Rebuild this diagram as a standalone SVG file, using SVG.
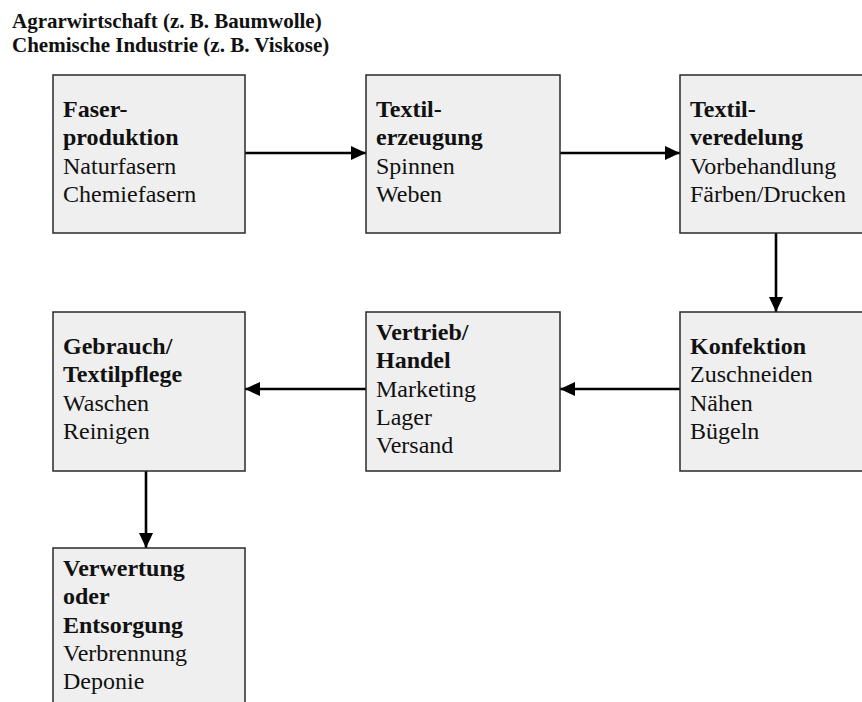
<svg xmlns="http://www.w3.org/2000/svg" width="862" height="702" viewBox="0 0 862 702">
  <defs>
    <style>
      .box { fill: #efefef; stroke: #2a2a2a; stroke-width: 1.5; }
      .t { font-family: "Liberation Serif", "Times New Roman", serif; font-size: 24px; fill: #111; }
      .b { font-weight: bold; }
      .hd { font-family: "Liberation Serif", "Times New Roman", serif; font-size: 21px; font-weight: bold; fill: #111; }
      .edge { stroke: #000; stroke-width: 2.6; fill: none; }
    </style>
    <marker id="head" viewBox="0 0 15 14" refX="15" refY="7" markerWidth="15" markerHeight="14" markerUnits="userSpaceOnUse" orient="auto">
      <path d="M0,0 L15,7 L0,14 Z" fill="#000"/>
    </marker>
  </defs>

  <rect width="862" height="702" fill="#fff"/>

  <!-- source sectors -->
  <g id="header">
    <text class="hd" x="12" y="28">Agrarwirtschaft (z. B. Baumwolle)</text>
    <text class="hd" x="12" y="52">Chemische Industrie (z. B. Viskose)</text>
  </g>

  <!-- connectors -->
  <g id="connectors">
    <line class="edge" x1="245" y1="153" x2="366" y2="153" marker-end="url(#head)"/>
    <line class="edge" x1="560" y1="153" x2="680" y2="153" marker-end="url(#head)"/>
    <line class="edge" x1="776" y1="233" x2="776" y2="312" marker-end="url(#head)"/>
    <line class="edge" x1="680" y1="389" x2="560" y2="389" marker-end="url(#head)"/>
    <line class="edge" x1="366" y1="389" x2="245" y2="389" marker-end="url(#head)"/>
    <line class="edge" x1="146" y1="471" x2="146" y2="548" marker-end="url(#head)"/>
  </g>

  <g id="faserproduktion">
    <rect class="box" x="53" y="75" width="192" height="158"/>
    <text class="t b" x="63" y="117">Faser-</text>
    <text class="t b" x="63" y="145.3">produktion</text>
    <text class="t" x="63" y="173.6">Naturfasern</text>
    <text class="t" x="63" y="202">Chemiefasern</text>
  </g>

  <g id="textilerzeugung">
    <rect class="box" x="366" y="75" width="194" height="158"/>
    <text class="t b" x="376" y="117">Textil-</text>
    <text class="t b" x="376" y="145.3">erzeugung</text>
    <text class="t" x="376" y="173.6">Spinnen</text>
    <text class="t" x="376" y="202">Weben</text>
  </g>

  <g id="textilveredelung">
    <rect class="box" x="680" y="75" width="194" height="158"/>
    <text class="t b" x="690" y="117">Textil-</text>
    <text class="t b" x="690" y="145.3">veredelung</text>
    <text class="t" x="690" y="173.6">Vorbehandlung</text>
    <text class="t" x="690" y="202">Färben/Drucken</text>
  </g>

  <g id="konfektion">
    <rect class="box" x="680" y="312" width="194" height="159"/>
    <text class="t b" x="690" y="354">Konfektion</text>
    <text class="t" x="690" y="382.3">Zuschneiden</text>
    <text class="t" x="690" y="410.6">Nähen</text>
    <text class="t" x="690" y="439">Bügeln</text>
  </g>

  <g id="vertrieb">
    <rect class="box" x="366" y="312" width="194" height="159"/>
    <text class="t b" x="376" y="340">Vertrieb/</text>
    <text class="t b" x="376" y="368.3">Handel</text>
    <text class="t" x="376" y="396.6">Marketing</text>
    <text class="t" x="376" y="425">Lager</text>
    <text class="t" x="376" y="453.3">Versand</text>
  </g>

  <g id="gebrauch">
    <rect class="box" x="53" y="312" width="192" height="159"/>
    <text class="t b" x="63" y="354">Gebrauch/</text>
    <text class="t b" x="63" y="382.3">Textilpflege</text>
    <text class="t" x="63" y="410.6">Waschen</text>
    <text class="t" x="63" y="439">Reinigen</text>
  </g>

  <g id="verwertung">
    <rect class="box" x="53" y="548" width="192" height="159"/>
    <text class="t b" x="63" y="576">Verwertung</text>
    <text class="t b" x="63" y="604.3">oder</text>
    <text class="t b" x="63" y="632.6">Entsorgung</text>
    <text class="t" x="63" y="661">Verbrennung</text>
    <text class="t" x="63" y="689.3">Deponie</text>
  </g>
</svg>
